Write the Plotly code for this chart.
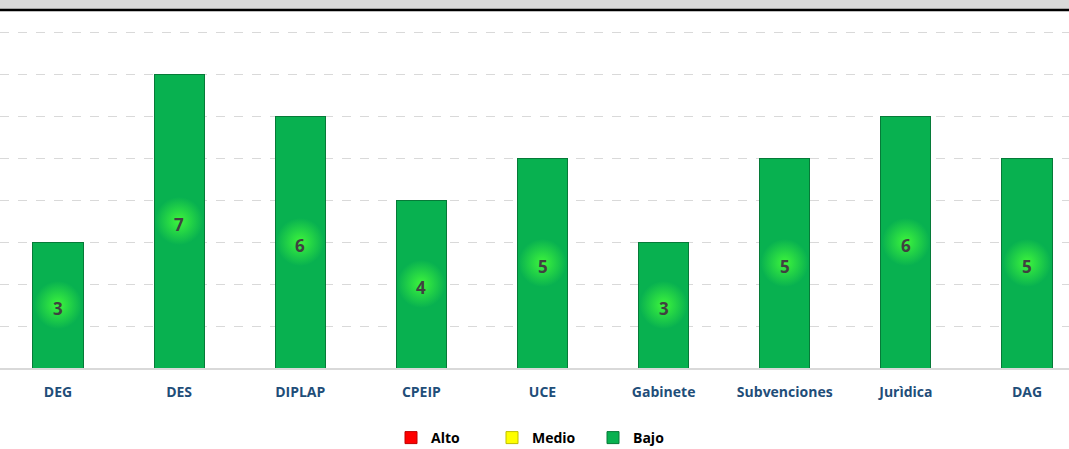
import plotly.graph_objects as go

categories = ["DEG", "DES", "DIPLAP", "CPEIP", "UCE", "Gabinete", "Subvenciones", "Jurìdica", "DAG"]
bajo = [3, 7, 6, 4, 5, 3, 5, 6, 5]
alto = [0, 0, 0, 0, 0, 0, 0, 0, 0]
medio = [0, 0, 0, 0, 0, 0, 0, 0, 0]

W, H = 1069, 449
fig = go.Figure()

fig.add_trace(go.Bar(name="Alto", x=categories, y=alto, marker=dict(color="#ff0000", line=dict(color="#c00000", width=1)),
                     width=0.413, hoverinfo="skip"))
fig.add_trace(go.Bar(name="Medio", x=categories, y=medio, marker=dict(color="#ffff00", line=dict(color="#bfbf00", width=1)),
                     width=0.413, hoverinfo="skip"))
fig.add_trace(go.Bar(name="Bajo", x=categories, y=bajo,
                     marker=dict(color="#08b150", line=dict(color="#067a38", width=1)),
                     width=0.413))

# glow behind labels (radial: gradient.color is the centre colour)
mids = [v / 2 for v in bajo]
fig.add_trace(go.Scatter(x=categories, y=mids, mode="markers", showlegend=False, hoverinfo="skip",
                         marker=dict(size=48, color="#08b150", line=dict(width=0),
                                     gradient=dict(type="radial", color="#3ef53c"))))

annotations = [
    dict(x=c, y=m, text=str(v), showarrow=False, yshift=-3,
         font=dict(family="Open Sans", size=17, color="#404040", weight="bold"))
    for c, m, v in zip(categories, mids, bajo)
]

fig.update_layout(
    width=W, height=H,
    barmode="stack",
    paper_bgcolor="white", plot_bgcolor="white",
    margin=dict(l=0, r=0, t=11, b=81),
    font=dict(family="Open Sans"),
    annotations=annotations,
    xaxis=dict(range=[-0.4788, 8.3467], showgrid=False, showline=True, linecolor="#d9d9d9", linewidth=1.5,
               ticks="", tickfont=dict(family="Open Sans", size=14, color="#1f4e79", weight="bold"), ticklabelstandoff=10),
    yaxis=dict(range=[0, 8.5], dtick=1, showticklabels=False, showgrid=True, gridcolor="#d9d9d9", griddash="dash",
               gridwidth=1, zeroline=False),
    legend=dict(orientation="h", xref="container", yref="container", x=0.5 + 8 / 1069, xanchor="center",
                y=1 - 438 / 449, yanchor="middle",
                font=dict(family="Open Sans", size=14, color="#000000", weight="bold"), itemwidth=30,
                entrywidth=56, traceorder="normal"),
    shapes=[
        dict(type="rect", xref="paper", yref="paper", x0=0, x1=1, y0=1, y1=1 + 12 / 357,
             fillcolor="#d9d9d9", line=dict(width=0), layer="above"),
        dict(type="line", xref="paper", yref="paper", x0=0, x1=1, y0=1 + 1 / 357, y1=1 + 1 / 357,
             line=dict(color="#000000", width=2.5), layer="above"),
    ],
)

fig.write_html("out.html", config={"displayModeBar": False},
               post_script="document.body.style.margin='0px';document.body.style.overflow='hidden';")
